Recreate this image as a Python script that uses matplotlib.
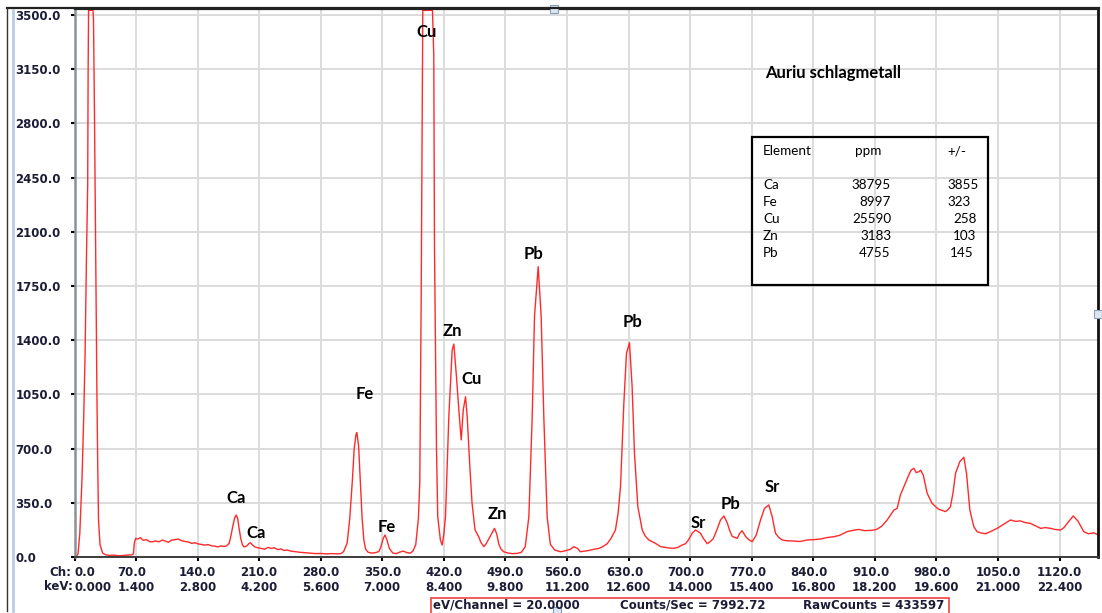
import matplotlib
matplotlib.use("Agg")
import matplotlib.pyplot as plt
from matplotlib.lines import Line2D
from matplotlib.patches import Rectangle
from matplotlib.font_manager import FontProperties

# ---------------- data ----------------
channels = [2, 4, 6, 8.5, 10.4, 12, 13.5, 15, 15.5, 16, 21, 21.6, 22.7, 24, 25.5, 26.3, 27.3, 29, 32, 35,
            40, 45, 50, 55, 60, 65, 67, 68, 69.5, 72, 75, 78, 82, 85, 88, 92, 96, 100, 103, 107, 110, 114,
            118, 122, 126, 130, 133, 137, 141, 145, 148, 152, 156, 160, 163, 167, 170, 173, 176, 178, 180,
            182, 183.8, 185.5, 187, 189, 191, 193, 196, 198, 200, 202, 205, 208, 212, 216, 220, 224, 227,
            231, 235, 238, 242, 246, 250, 254, 257, 262, 268, 274, 280, 286, 292, 299, 303, 306, 310, 313,
            316, 318, 320, 321, 323, 325, 327, 329, 331, 334, 338, 342, 346, 348, 351, 353, 355, 358, 362,
            366, 370, 374, 378, 382, 385, 388, 391, 392.6, 394.2, 396, 407, 408.5, 409.3, 411.6, 413, 416,
            418, 420, 421.8, 425.6, 429.4, 431.3, 434.3, 437, 439.7, 442, 444.6, 446.5, 449.5, 452, 455.4,
            459.7, 462, 465.4, 468, 472.2, 477.5, 480, 482.5, 485, 488, 493, 498, 503, 508, 512.5, 516.6,
            520.4, 523, 527.2, 530.6, 533.6, 537.4, 541, 546, 552.6, 558, 564, 567.7, 572, 575, 580, 585,
            590.5, 596, 600, 605.7, 610, 615, 618, 620.8, 624.6, 627.6, 631, 634, 636.7, 640.5, 645.5, 649,
            653, 660, 666.3, 672, 676, 681.4, 686, 690, 694.7, 698, 702.3, 706, 709, 711.8, 715, 719.4, 723,
            726.2, 730, 734.5, 738.3, 742.2, 745, 747.8, 753.5, 756, 759, 763, 767, 770.5, 775, 780, 784.5,
            789.4, 793.2, 797, 801, 804.6, 810, 817.9, 825, 833, 840, 848.2, 855, 863.3, 870, 878.6, 885,
            891.8, 898, 905, 909, 912.7, 918, 924, 931.6, 935.4, 939, 943, 948.6, 951, 954.3, 957, 960, 962,
            965, 969.5, 975, 980, 982.7, 987, 990.3, 993, 996, 999, 1001.7, 1006.6, 1009, 1011.2, 1014.2,
            1018, 1022.5, 1026.3, 1031, 1035.8, 1042, 1049, 1056, 1064.2, 1070, 1075.6, 1081, 1087, 1093,
            1098.4, 1104, 1109.7, 1115, 1121, 1125, 1128.7, 1135.5, 1140.8, 1144, 1147.6, 1153, 1159, 1165]
counts = [5, 20, 150, 500, 885, 1300, 1900, 2400, 3150, 3530, 3530, 3470, 2870, 2000, 1050, 650, 240, 80, 25, 15,
          10, 12, 8, 10, 12, 14, 20, 90, 120, 116, 125, 108, 112, 100, 97, 104, 98, 110, 103, 95, 108, 112,
          116, 105, 100, 96, 88, 92, 84, 80, 77, 80, 72, 70, 65, 72, 68, 72, 90, 140, 200,
          250, 271, 250, 190, 120, 77, 65, 72, 85, 92, 80, 65, 60, 56, 50, 62, 55, 60,
          48, 52, 42, 45, 38, 35, 32, 30, 28, 25, 22, 23, 20, 22, 20, 22, 35, 90, 250,
          500, 700, 790, 803, 720, 480, 250, 110, 50, 30, 25, 28, 35, 60, 120, 142, 115, 55, 25,
          22, 32, 38, 28, 25, 40, 80, 250, 480, 1700, 3530, 3530, 3240, 2000, 690, 260, 110,
          77, 150, 260, 906, 1337, 1375, 1164, 949, 756, 949, 1035, 906, 583, 349, 174,
          129, 95, 67, 85, 129, 185, 150, 82, 50, 34, 25, 22, 23, 30, 67, 260,
          906, 1552, 1875, 1552, 906, 260, 82, 45, 34, 40, 50, 67, 55, 34, 38, 42,
          50, 55, 65, 86, 120, 174, 280, 454, 993, 1315, 1384, 1100, 670, 325, 174, 135,
          110, 90, 67, 62, 58, 56, 62, 75, 86, 110, 153, 174, 165, 153, 120, 86, 100,
          118, 170, 239, 265, 220, 170, 133, 120, 150, 170, 133, 110, 99, 140, 239, 314,
          336, 262, 153, 125, 110, 105, 103, 100, 110, 112, 116, 125, 131, 140, 164, 172,
          178, 170, 172, 174, 180, 200, 239, 303, 314, 400, 454, 530, 560, 573, 545, 551, 560,
          530, 411, 347, 320, 308, 300, 293, 305, 325, 420, 540, 616, 630, 644, 540,
          303, 196, 163, 155, 150, 165, 185, 210, 239, 230, 233, 222, 217, 200,
          185, 190, 185, 178, 174, 190, 217, 265, 233, 200, 163, 150, 156, 140]

y_ticks = [0, 350, 700, 1050, 1400, 1750, 2100, 2450, 2800, 3150, 3500]
y_tick_labels = ["0.0", "350.0", "700.0", "1050.0", "1400.0", "1750.0", "2100.0", "2450.0",
                 "2800.0", "3150.0", "3500.0"]
ch_ticks = [0, 70, 140, 210, 280, 350, 420, 490, 560, 630, 700, 770, 840, 910, 980, 1050, 1120]
ch_labels = ["0.0", "70.0", "140.0", "210.0", "280.0", "350.0", "420.0", "490.0", "560.0", "630.0",
             "700.0", "770.0", "840.0", "910.0", "980.0", "1050.0", "1120.0"]
kev_labels = ["0.000", "1.400", "2.800", "4.200", "5.600", "7.000", "8.400", "9.800", "11.200",
              "12.600", "14.000", "15.400", "16.800", "18.200", "19.600", "21.000", "22.400"]

peak_names = ["Cu", "Pb", "Zn", "Cu", "Fe", "Pb", "Ca", "Ca", "Fe", "Zn", "Sr", "Pb", "Sr"]
peak_label_ch = [400, 522, 430, 451, 330, 634, 184, 207, 355, 481, 709, 746, 793]
peak_label_counts = [3390, 1955, 1460, 1150, 1050, 1515, 380, 155, 195, 275, 220, 345, 450]

title = "Auriu schlagmetall"
table_elements = ["Ca", "Fe", "Cu", "Zn", "Pb"]
table_ppm = ["38795", "8997", "25590", "3183", "4755"]
table_err = ["3855", "323", "258", "103", "145"]
status_texts = ["eV/Channel = 20.0000", "Counts/Sec = 7992.72", "RawCounts = 433597"]

# ---------------- figure ----------------
W, H = 1102, 613
fig = plt.figure(figsize=(W / 100, H / 100), dpi=100)
fig.patch.set_facecolor("white")


def fx(x):
    return x / W


def fy(y):
    return 1 - y / H


ax_l, ax_r, ax_t, ax_b = 74.5, 1098, 9, 557
ax = fig.add_axes([fx(ax_l), fy(ax_b), (ax_r - ax_l) / W, (ax_b - ax_t) / H])
ax.set_xlim(0, 1163.7)
ax.set_ylim(0, 3538.7)

ax.plot(channels, counts, color="#ff2a2a", lw=1.0, solid_joinstyle="round")

ax.set_yticks(y_ticks)
ax.set_yticklabels(y_tick_labels)
ax.set_xticks(ch_ticks)
ax.set_xticklabels([c + "\n" + k for c, k in zip(ch_labels, kev_labels)])
ax.grid(True, color="#dcdcdc", lw=1.4)
ax.set_axisbelow(True)

lab_color = "#1c1c36"
tick_font = dict(family="DejaVu Sans", weight="bold", size=8.5)
ax.tick_params(axis="y", direction="out", length=3.2, width=1.5, color="black", pad=39.5,
               labelcolor=lab_color)
ax.tick_params(axis="x", direction="out", length=3.2, width=1.5, color="black", pad=3.5,
               labelcolor=lab_color)
for lab in ax.get_yticklabels():
    lab.set_fontproperties(FontProperties(**tick_font))
    lab.set_ha("left")
for i, lab in enumerate(ax.get_xticklabels()):
    lab.set_fontproperties(FontProperties(**tick_font))
    lab.set_multialignment("left")
    lab.set_linespacing(1.15)
    if i == 0:
        lab.set_ha("left")

fig.text(fx(71), fy(573), "Ch:", ha="right", va="center", color=lab_color, **tick_font)
fig.text(fx(73), fy(587), "keV:", ha="right", va="center", color=lab_color, **tick_font)

ax.spines["left"].set_color("#8a9296")
ax.spines["left"].set_linewidth(1.8)
ax.spines["bottom"].set_color("#3c3c3c")
ax.spines["bottom"].set_linewidth(1.4)
ax.spines["top"].set_color("#222222")
ax.spines["top"].set_linewidth(1.6)
ax.spines["right"].set_color("#111111")
ax.spines["right"].set_linewidth(2.0)

# peak labels
for name, c, v in zip(peak_names, peak_label_ch, peak_label_counts):
    ax.text(c, v, name, ha="center", va="center", fontsize=12, fontweight="bold",
            family="Lato", color="black")

# title
fig.text(fx(765), fy(73), title, ha="left", va="center", fontsize=12, fontweight="bold",
         family="Lato", color="black")

# table box
fig.add_artist(Rectangle((fx(752), fy(285)), (988 - 752) / W, (285 - 137) / H,
                         transform=fig.transFigure, fill=False, ec="black", lw=1.6))
tfont = dict(family="Lato", fontsize=9.7, color="black", va="center")
fig.text(fx(763), fy(151), "Element", ha="left", **tfont)
fig.text(fx(855), fy(151), "ppm", ha="left", **tfont)
fig.text(fx(947), fy(151), "+/-", ha="left", **tfont)
row_y = [185, 202, 219, 236, 253]
ppm_right = [891, 891, 892, 892, 890]
err_left = [947, 947, 953, 953, 950]
for el, p, e, yy, pr, el_x in zip(table_elements, table_ppm, table_err, row_y, ppm_right, err_left):
    fig.text(fx(763), fy(yy), el, ha="left", **tfont)
    fig.text(fx(pr), fy(yy), p, ha="right", **tfont)
    fig.text(fx(el_x), fy(yy), e, ha="left", **tfont)

# status box
fig.add_artist(Rectangle((fx(431), fy(616)), (949 - 431) / W, (616 - 598) / H,
                         transform=fig.transFigure, fill=False, ec="#f04040", lw=1.2))
status_x = [433, 620, 803]
for t, xx in zip(status_texts, status_x):
    fig.text(fx(xx), fy(605.5), t, ha="left", va="center", color=lab_color, **tick_font)

# window frame decorations
fig.add_artist(Line2D([fx(7), fx(1099)], [fy(8), fy(8)], transform=fig.transFigure,
                      color="#222222", lw=1.6))
fig.add_artist(Line2D([fx(7), fx(7)], [fy(8), fy(611)], transform=fig.transFigure,
                      color="#333333", lw=1.0))
fig.add_artist(Line2D([fx(13), fx(13)], [fy(10), fy(611)], transform=fig.transFigure,
                      color="#b7cde6", lw=2.0))
for (hx, hy) in [(554, 9), (1098, 314), (557, 611)]:
    fig.add_artist(Rectangle((fx(hx - 4), fy(hy + 4)), 8 / W, 8 / H, transform=fig.transFigure,
                             fc="#dce6f2", ec="#8aa0bd", lw=0.8))

fig.savefig("out.png", dpi=100)
